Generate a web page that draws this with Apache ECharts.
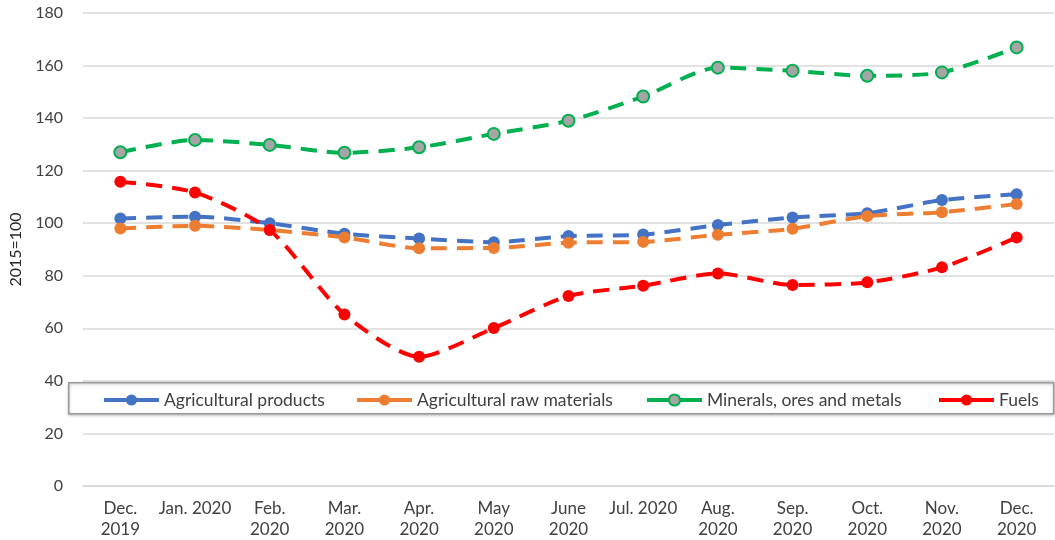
<!DOCTYPE html>
<html>
<head>
<meta charset="utf-8">
<script src="https://cdn.jsdelivr.net/npm/echarts@6/dist/echarts.min.js"></script>
<style>
  html, body { margin: 0; padding: 0; background: #fff; }
  #chart { width: 1055px; height: 540px; }
</style>
</head>
<body>
<div id="chart"></div>
<script>
const months = ['Dec.\n2019', 'Jan. 2020', 'Feb.\n2020', 'Mar.\n2020', 'Apr.\n2020', 'May\n2020',
  'June\n2020', 'Jul. 2020', 'Aug.\n2020', 'Sep.\n2020', 'Oct.\n2020', 'Nov.\n2020', 'Dec.\n2020'];

const agriProducts = [101.8, 102.5, 100.0, 96.0, 94.2, 92.8, 95.1, 95.7, 99.3, 102.2, 103.8, 108.8, 111.0];
const agriRaw = [98.0, 99.0, 97.4, 94.6, 90.5, 90.6, 92.6, 92.9, 95.6, 97.9, 102.7, 104.2, 107.3];
const minerals = [127.0, 131.7, 129.8, 126.8, 128.9, 134.0, 139.0, 148.2, 159.2, 158.0, 156.1, 157.4, 166.9];
const fuels = [115.8, 111.7, 97.4, 65.3, 49.2, 60.1, 72.3, 76.2, 80.9, 76.5, 77.5, 83.2, 94.6];

const yTicks = { min: 0, max: 180, step: 20 };

const FONT = 'Lato, "Liberation Sans", sans-serif';
const TEXT = '#404040';

const chart = echarts.init(document.getElementById('chart'), null, { renderer: 'canvas' });

function lineSeries(name, data, color, extra) {
  return Object.assign({
    name: name,
    type: 'line',
    data: data,
    smooth: 0.25,
    symbol: 'circle',
    symbolSize: 12,
    lineStyle: { color: color, width: 4, type: [16, 10] },
    itemStyle: { color: color },
    z: 3
  }, extra || {});
}

function legendAt(name, left) {
  return {
    data: [name],
    left: left,
    top: 386,
    itemWidth: 55,
    itemHeight: 14,
    itemGap: 0,
    textStyle: { fontFamily: FONT, fontSize: 17.5, color: TEXT },
    lineStyle: { type: 'solid', width: 4 },
    z: 10
  };
}

const option = {
  backgroundColor: '#fff',
  animation: false,
  grid: { left: 83, right: 1, top: 13, bottom: 54, outerBoundsMode: 'none' },
  legend: [
    legendAt('Agricultural products', 97),
    legendAt('Agricultural raw materials', 350),
    legendAt('Minerals, ores and metals', 640),
    legendAt('Fuels', 932)
  ],
  graphic: [{
    type: 'rect',
    left: 68,
    top: 382,
    shape: { width: 985, height: 31 },
    style: {
      fill: '#fff',
      stroke: '#9a9a9a',
      lineWidth: 1.5,
      shadowBlur: 3,
      shadowColor: 'rgba(0,0,0,0.25)',
      shadowOffsetY: 1
    },
    z: 5
  }],
  xAxis: {
    type: 'category',
    data: months,
    boundaryGap: true,
    axisLine: { show: true, lineStyle: { color: '#d9d9d9', width: 1.5 } },
    axisTick: { show: false },
    axisLabel: {
      interval: 0,
      margin: 12,
      color: TEXT,
      fontFamily: FONT,
      fontSize: 17,
      lineHeight: 21,
      verticalAlign: 'top'
    }
  },
  yAxis: {
    type: 'value',
    min: yTicks.min,
    max: yTicks.max,
    interval: yTicks.step,
    name: '2015=100',
    nameLocation: 'middle',
    nameGap: 57,
    nameRotate: 90,
    nameTextStyle: { color: '#262626', fontFamily: FONT, fontSize: 16 },
    axisLine: { show: false },
    axisTick: { show: false },
    axisLabel: { margin: 20, color: TEXT, fontFamily: FONT, fontSize: 16 },
    splitLine: { lineStyle: { color: '#d9d9d9', width: 1.5 } }
  },
  series: [
    lineSeries('Agricultural products', agriProducts, '#4472C4'),
    lineSeries('Agricultural raw materials', agriRaw, '#ED7D31'),
    lineSeries('Minerals, ores and metals', minerals, '#00B050', {
      itemStyle: { color: '#A5A5A5', borderColor: '#00B050', borderWidth: 2 }
    }),
    lineSeries('Fuels', fuels, '#FF0000')
  ]
};

chart.setOption(option);
window.addEventListener('resize', () => chart.resize());
</script>
</body>
</html>
